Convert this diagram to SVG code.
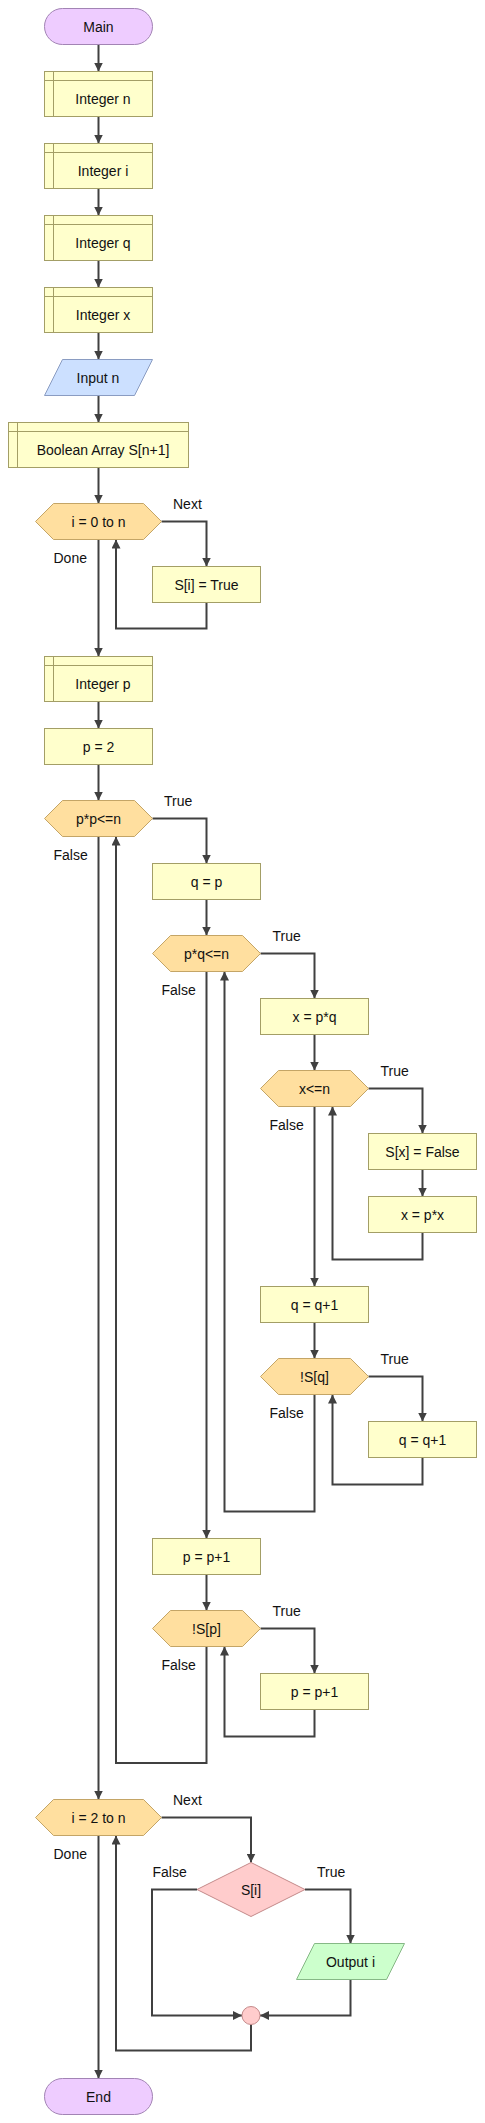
<svg xmlns="http://www.w3.org/2000/svg" width="485" height="2123" viewBox="0 0 485 2123">
<style>
text{font-family:"Liberation Sans",Arial,sans-serif;font-size:14px;fill:#111}
.c{text-anchor:middle}
.term{fill:#eeccff;stroke:#a284b4;stroke-width:1}
.proc{fill:#ffffcc;stroke:#a39e66;stroke-width:1}
.inp{fill:#cce0ff;stroke:#8a9cc2;stroke-width:1}
.hex{fill:#ffdf9f;stroke:#c4a566;stroke-width:1}
.dia{fill:#ffcccc;stroke:#c48a8a;stroke-width:1}
.out{fill:#ccffcc;stroke:#86b886;stroke-width:1}
.ln{fill:none;stroke:#404040;stroke-width:2;marker-end:url(#ah)}
.ln2{fill:none;stroke:#404040;stroke-width:2}
</style>
<defs>
<marker id="ah" viewBox="0 0 10 10" refX="10" refY="5" markerWidth="9" markerHeight="9" markerUnits="userSpaceOnUse" orient="auto">
<path d="M0,0 L10,5 L0,10 z" fill="#404040"/>
</marker>
</defs>
<g id="connectors">
<path class="ln" d="M98.5,44.5V71.5"/>
<path class="ln" d="M98.5,116.5V143.5"/>
<path class="ln" d="M98.5,188.5V215.5"/>
<path class="ln" d="M98.5,260.5V287.5"/>
<path class="ln" d="M98.5,332.5V359.5"/>
<path class="ln" d="M98.5,395.5V422.5"/>
<path class="ln" d="M98.5,467.5V503.5"/>
<path class="ln" d="M161.5,521.5H206.5V566.5"/>
<path class="ln" d="M206.5,602.5V628.5H116V539.5"/>
<path class="ln" d="M98.5,539.5V656.5"/>
<path class="ln" d="M98.5,701.5V728.5"/>
<path class="ln" d="M98.5,764.5V800.5"/>
<path class="ln" d="M152.5,818.5H206.5V863.5"/>
<path class="ln" d="M206.5,899.5V935.5"/>
<path class="ln" d="M260.5,953.5H314.5V998.5"/>
<path class="ln" d="M314.5,1034.5V1070.5"/>
<path class="ln" d="M368.5,1088.5H422.5V1133.5"/>
<path class="ln" d="M422.5,1169.5V1196.5"/>
<path class="ln" d="M422.5,1232.5V1259.5H332.5V1106.5"/>
<path class="ln" d="M314.5,1106.5V1286.5"/>
<path class="ln" d="M314.5,1322.5V1358.5"/>
<path class="ln" d="M368.5,1376.5H422.5V1421.5"/>
<path class="ln" d="M422.5,1457.5V1484.5H332.5V1394.5"/>
<path class="ln" d="M314.5,1394.5V1511.5H224.5V971.5"/>
<path class="ln" d="M206.5,971.5V1538.5"/>
<path class="ln" d="M206.5,1574.5V1610.5"/>
<path class="ln" d="M260.5,1628.5H314.5V1673.5"/>
<path class="ln" d="M314.5,1709.5V1736.5H224.5V1646.5"/>
<path class="ln" d="M206.5,1646.5V1763H116V836.5"/>
<path class="ln" d="M98.5,836.5V1799.5"/>
<path class="ln" d="M161.5,1817.5H251V1862.5"/>
<path class="ln" d="M197,1889.5H152V2015.5H242"/>
<path class="ln" d="M305,1889.5H350.5V1943.5"/>
<path class="ln" d="M350.5,1979.5V2015.5H260"/>
<path class="ln" d="M251,2024.5V2050.5H116V1835.5"/>
<path class="ln" d="M98.5,1835.5V2078.5"/>
<text x="173" y="509">Next</text>
<text x="53.5" y="563">Done</text>
<text x="164" y="805.5">True</text>
<text x="53.5" y="859.5">False</text>
<text x="272.5" y="940.5">True</text>
<text x="161.5" y="995">False</text>
<text x="380.5" y="1075.5">True</text>
<text x="269.5" y="1130">False</text>
<text x="380.5" y="1363.5">True</text>
<text x="269.5" y="1417.5">False</text>
<text x="272.5" y="1615.5">True</text>
<text x="161.5" y="1670">False</text>
<text x="173" y="1805">Next</text>
<text x="53.5" y="1859">Done</text>
<text x="152.5" y="1877">False</text>
<text x="317" y="1877">True</text>
</g>
<g id="main"><rect class="term" x="44.5" y="8.5" width="108" height="36" rx="18"/><text class="c" x="98.5" y="32">Main</text></g>
<g id="decl_n"><rect class="proc" x="44.5" y="71.5" width="108" height="45"/><path class="proc" d="M53.5,71.5V116.5M44.5,80.5H152.5" fill="none"/><text class="c" x="103" y="104">Integer n</text></g>
<g id="decl_i"><rect class="proc" x="44.5" y="143.5" width="108" height="45"/><path class="proc" d="M53.5,143.5V188.5M44.5,152.5H152.5" fill="none"/><text class="c" x="103" y="176">Integer i</text></g>
<g id="decl_q"><rect class="proc" x="44.5" y="215.5" width="108" height="45"/><path class="proc" d="M53.5,215.5V260.5M44.5,224.5H152.5" fill="none"/><text class="c" x="103" y="248">Integer q</text></g>
<g id="decl_x"><rect class="proc" x="44.5" y="287.5" width="108" height="45"/><path class="proc" d="M53.5,287.5V332.5M44.5,296.5H152.5" fill="none"/><text class="c" x="103" y="320">Integer x</text></g>
<g id="input_n"><polygon class="inp" points="62.5,359.5 152.5,359.5 134.5,395.5 44.5,395.5"/><text class="c" x="98" y="382.5">Input n</text></g>
<g id="decl_S"><rect class="proc" x="8.5" y="422.5" width="180" height="45"/><path class="proc" d="M17.5,422.5V467.5M8.5,431.5H188.5" fill="none"/><text class="c" x="103" y="455">Boolean Array S[n+1]</text></g>
<g id="loop1"><polygon class="hex" points="35.5,521.5 53.5,503.5 143.5,503.5 161.5,521.5 143.5,539.5 53.5,539.5"/><text class="c" x="98.5" y="526.5">i = 0 to n</text></g>
<g id="assign_si"><rect class="proc" x="152.5" y="566.5" width="108" height="36"/><text class="c" x="206.5" y="589.5">S[i] = True</text></g>
<g id="decl_p"><rect class="proc" x="44.5" y="656.5" width="108" height="45"/><path class="proc" d="M53.5,656.5V701.5M44.5,665.5H152.5" fill="none"/><text class="c" x="103" y="689">Integer p</text></g>
<g id="p_2"><rect class="proc" x="44.5" y="728.5" width="108" height="36"/><text class="c" x="98.5" y="751.5">p = 2</text></g>
<g id="while_pp"><polygon class="hex" points="44.5,818.5 62.5,800.5 134.5,800.5 152.5,818.5 134.5,836.5 62.5,836.5"/><text class="c" x="98.5" y="823.5">p*p&lt;=n</text></g>
<g id="q_p"><rect class="proc" x="152.5" y="863.5" width="108" height="36"/><text class="c" x="206.5" y="886.5">q = p</text></g>
<g id="while_pq"><polygon class="hex" points="152.5,953.5 170.5,935.5 242.5,935.5 260.5,953.5 242.5,971.5 170.5,971.5"/><text class="c" x="206.5" y="958.5">p*q&lt;=n</text></g>
<g id="x_pq"><rect class="proc" x="260.5" y="998.5" width="108" height="36"/><text class="c" x="314.5" y="1021.5">x = p*q</text></g>
<g id="while_x"><polygon class="hex" points="260.5,1088.5 278.5,1070.5 350.5,1070.5 368.5,1088.5 350.5,1106.5 278.5,1106.5"/><text class="c" x="314.5" y="1093.5">x&lt;=n</text></g>
<g id="sx_false"><rect class="proc" x="368.5" y="1133.5" width="108" height="36"/><text class="c" x="422.5" y="1156.5">S[x] = False</text></g>
<g id="x_px"><rect class="proc" x="368.5" y="1196.5" width="108" height="36"/><text class="c" x="422.5" y="1219.5">x = p*x</text></g>
<g id="q_inc1"><rect class="proc" x="260.5" y="1286.5" width="108" height="36"/><text class="c" x="314.5" y="1309.5">q = q+1</text></g>
<g id="while_sq"><polygon class="hex" points="260.5,1376.5 278.5,1358.5 350.5,1358.5 368.5,1376.5 350.5,1394.5 278.5,1394.5"/><text class="c" x="314.5" y="1381.5">!S[q]</text></g>
<g id="q_inc2"><rect class="proc" x="368.5" y="1421.5" width="108" height="36"/><text class="c" x="422.5" y="1444.5">q = q+1</text></g>
<g id="p_inc1"><rect class="proc" x="152.5" y="1538.5" width="108" height="36"/><text class="c" x="206.5" y="1561.5">p = p+1</text></g>
<g id="while_sp"><polygon class="hex" points="152.5,1628.5 170.5,1610.5 242.5,1610.5 260.5,1628.5 242.5,1646.5 170.5,1646.5"/><text class="c" x="206.5" y="1633.5">!S[p]</text></g>
<g id="p_inc2"><rect class="proc" x="260.5" y="1673.5" width="108" height="36"/><text class="c" x="314.5" y="1696.5">p = p+1</text></g>
<g id="loop2"><polygon class="hex" points="35.5,1817.5 53.5,1799.5 143.5,1799.5 161.5,1817.5 143.5,1835.5 53.5,1835.5"/><text class="c" x="98.5" y="1822.5">i = 2 to n</text></g>
<g id="if_si"><polygon class="dia" points="251,1862.5 305,1889.5 251,1916.5 197,1889.5"/><text class="c" x="251" y="1894.5">S[i]</text></g>
<g id="output_i"><polygon class="out" points="314.5,1943.5 404.5,1943.5 386.5,1979.5 296.5,1979.5"/><text class="c" x="350.5" y="1966.5">Output i</text></g>
<g id="join"><circle class="dia" cx="251" cy="2015.5" r="9"/></g>
<g id="end"><rect class="term" x="44.5" y="2078.5" width="108" height="36" rx="18"/><text class="c" x="98.5" y="2101.5">End</text></g>
</svg>
